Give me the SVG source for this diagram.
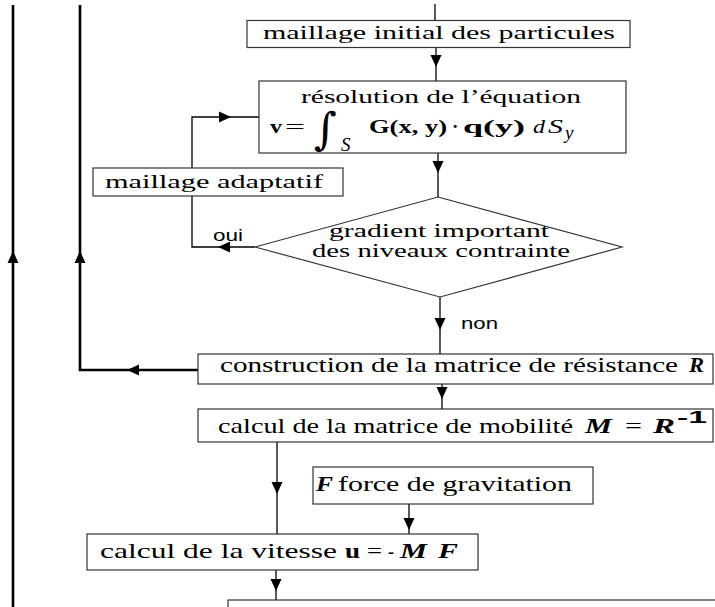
<svg xmlns="http://www.w3.org/2000/svg" width="715" height="607" viewBox="0 0 715 607">
<style>
.box{fill:#fff;stroke:#333;stroke-width:1.2}
.ln{fill:none;stroke:#000;stroke-width:1.3}
.thick{fill:none;stroke:#000;stroke-width:2.6}
.t{font-family:"Liberation Serif",serif;font-size:19px;fill:#000}
.tt{font-family:"Liberation Serif",serif;font-size:21px;fill:#000}
.b{font-weight:bold}
.i{font-style:italic}
.bi{font-family:"Liberation Serif",serif;font-style:italic;font-weight:bold;font-size:22px;fill:#000}
.s{font-family:"Liberation Sans",sans-serif;font-size:17px;fill:#000}
</style>
<defs>
<path id="ah" d="M0,0 L-5.5,-12 L5.5,-12 Z" fill="#000"/>
</defs>
<g id="connectors">
<line class="thick" x1="13" y1="5" x2="13" y2="607"/>
<polyline class="thick" points="80,5 80,370 198,370" stroke-width="2.2"/>
<line class="ln" x1="435" y1="4" x2="435" y2="20"/>
<line class="ln" x1="436" y1="48" x2="436" y2="81"/>
<line class="ln" x1="438" y1="153" x2="438" y2="197"/>
<polyline class="ln" points="255,247 192,247 192,196"/>
<polyline class="ln" points="192,168 192,117 259,117"/>
<line class="ln" x1="440" y1="297" x2="440" y2="354"/>
<line class="ln" x1="442" y1="384" x2="442" y2="409"/>
<line class="ln" x1="277" y1="442" x2="277" y2="534"/>
<line class="ln" x1="409" y1="504" x2="409" y2="534"/>
<line class="ln" x1="276" y1="570" x2="276" y2="600"/>
<use href="#ah" transform="translate(436,67)"/>
<use href="#ah" transform="translate(438,173)"/>
<use href="#ah" transform="translate(218,247) rotate(90)"/>
<use href="#ah" transform="translate(231,117) rotate(-90)"/>
<use href="#ah" transform="translate(440,330)"/>
<use href="#ah" transform="translate(13,251) rotate(180)"/>
<use href="#ah" transform="translate(80,251) rotate(180)"/>
<use href="#ah" transform="translate(127,370) rotate(90)"/>
<use href="#ah" transform="translate(442,399)"/>
<use href="#ah" transform="translate(277,494)"/>
<use href="#ah" transform="translate(409,530)"/>
<use href="#ah" transform="translate(276,591)"/>
<text class="s" x="213" y="241" textLength="30" lengthAdjust="spacingAndGlyphs">oui</text>
<text class="s" x="461" y="329" textLength="37" lengthAdjust="spacingAndGlyphs">non</text>
</g>
<g id="n1">
<rect class="box" x="247" y="20.5" width="383" height="27"/>
<text class="t" x="263" y="39" textLength="352" lengthAdjust="spacingAndGlyphs">maillage initial des particules</text>
</g>
<g id="n2">
<rect class="box" x="259" y="81" width="367" height="72"/>
<text class="t" x="301" y="103" textLength="280" lengthAdjust="spacingAndGlyphs">résolution de l’équation</text>
<text class="t b" x="270" y="133" font-size="20" textLength="12" lengthAdjust="spacingAndGlyphs">v</text>
<text class="t" x="285" y="133" font-size="22" textLength="20" lengthAdjust="spacingAndGlyphs">=</text>
<text x="314" y="144" font-family="DejaVu Serif, serif" font-size="44">∫</text>
<text class="t i" x="341" y="151" font-size="15">S</text>
<text class="t b" x="369" y="133" font-size="20" textLength="78" lengthAdjust="spacingAndGlyphs">G(x, y)</text>
<text class="t b" x="452" y="133" font-size="20">·</text>
<text class="t b" x="463" y="133" font-size="20" textLength="62" lengthAdjust="spacingAndGlyphs">q(y)</text>
<text class="t i" x="533" y="133" font-size="20" textLength="12" lengthAdjust="spacingAndGlyphs">d</text>
<text class="t i" x="548" y="133" font-size="20" textLength="15" lengthAdjust="spacingAndGlyphs">S</text>
<text class="t i" x="565" y="139" font-size="14">y</text>
</g>
<g id="n3">
<rect class="box" x="93" y="168" width="250" height="28"/>
<text class="t" x="105" y="188" textLength="218" lengthAdjust="spacingAndGlyphs">maillage adaptatif</text>
</g>
<g id="n4">
<polygon class="box" points="438,197 622,247 440,297 255,247" stroke-width="1"/>
<text class="t" x="329" y="237" textLength="220" lengthAdjust="spacingAndGlyphs">gradient important</text>
<text class="t" x="312" y="257" textLength="258" lengthAdjust="spacingAndGlyphs">des niveaux contrainte</text>
</g>
<g id="n5">
<rect class="box" x="198" y="354" width="515" height="30"/>
<text class="tt" x="220" y="372" textLength="458" lengthAdjust="spacingAndGlyphs">construction de la matrice de résistance</text>
<text class="bi" x="689" y="372" textLength="15" lengthAdjust="spacingAndGlyphs">R</text>
</g>
<g id="n6">
<rect class="box" x="198" y="409" width="515" height="33"/>
<text class="tt" x="218" y="433" textLength="355" lengthAdjust="spacingAndGlyphs">calcul de la matrice de mobilité</text>
<text class="bi" x="585" y="433" textLength="27" lengthAdjust="spacingAndGlyphs">M</text>
<text class="tt" x="625" y="433" textLength="17" lengthAdjust="spacingAndGlyphs">=</text>
<text class="bi" x="653" y="433" textLength="22" lengthAdjust="spacingAndGlyphs">R</text>
<text class="s" x="677" y="423" font-weight="bold" font-size="17" textLength="30" lengthAdjust="spacingAndGlyphs">-1</text>
</g>
<g id="n7">
<rect class="box" x="313" y="467" width="280" height="37"/>
<text class="bi" x="316" y="491" font-size="20" textLength="17" lengthAdjust="spacingAndGlyphs">F</text>
<text class="tt" x="338" y="491" textLength="234" lengthAdjust="spacingAndGlyphs">force de gravitation</text>
</g>
<g id="n8">
<rect class="box" x="87" y="534" width="391" height="36"/>
<text class="tt" x="100" y="558" textLength="237" lengthAdjust="spacingAndGlyphs">calcul de la vitesse</text>
<text class="tt b" x="345" y="558" textLength="15" lengthAdjust="spacingAndGlyphs">u</text>
<text class="tt" x="367" y="558" textLength="15" lengthAdjust="spacingAndGlyphs">=</text>
<text class="tt" x="388" y="558" textLength="6" lengthAdjust="spacingAndGlyphs">-</text>
<text class="bi" x="400" y="558" textLength="27" lengthAdjust="spacingAndGlyphs">M</text>
<text class="bi" x="438" y="558" textLength="20" lengthAdjust="spacingAndGlyphs">F</text>
</g>
<g id="n9">
<rect class="box" x="228" y="600" width="495" height="20"/>
</g>
</svg>
